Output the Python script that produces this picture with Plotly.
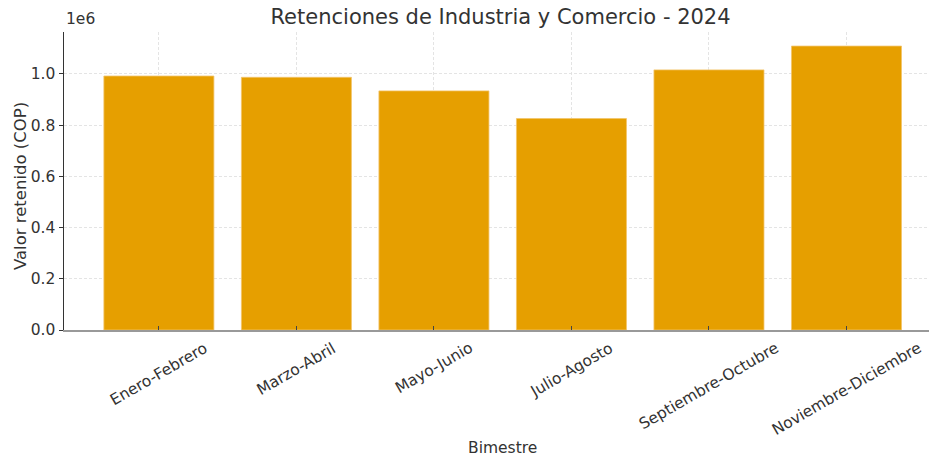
import plotly.graph_objects as go

categorias = ["Enero-Febrero", "Marzo-Abril", "Mayo-Junio", "Julio-Agosto",
              "Septiembre-Octubre", "Noviembre-Diciembre"]
valores = [992000, 987000, 934000, 826000, 1016000, 1109000]
y_ticks = [0, 200000, 400000, 600000, 800000, 1000000]
y_tick_labels = ["0.0", "0.2", "0.4", "0.6", "0.8", "1.0"]

FONT = "DejaVu Sans"
TXT = "#333333"
FS = 15.5

fig = go.Figure()
fig.add_trace(go.Bar(
    x=list(range(len(categorias))), y=valores,
    width=0.8,
    marker=dict(color="#E69F00", line=dict(color="#F2C46A", width=0.8)),
    hoverinfo="skip",
))

annotations = []
for i, c in enumerate(categorias):
    annotations.append(dict(
        x=i, y=0, xref="x", yref="y", text=c, showarrow=False,
        textangle=-30, xanchor="center", yanchor="top", yshift=-6,
        font=dict(family=FONT, size=FS, color=TXT),
    ))
annotations.append(dict(
    x=0, y=1.0, xref="paper", yref="paper", text="1e6", showarrow=False,
    xanchor="left", yanchor="bottom", yshift=2, xshift=0,
    font=dict(family=FONT, size=FS, color=TXT),
))
annotations.append(dict(
    x=(-0.69 + 5.69) / 2, y=0, xref="x", yref="paper", text="Bimestre", showarrow=False,
    xanchor="center", yanchor="middle", yshift=-118,
    font=dict(family=FONT, size=FS, color=TXT),
))
annotations.append(dict(
    x=0, y=0.483, xref="paper", yref="paper", text="Valor retenido (COP)", showarrow=False,
    textangle=-90, xanchor="center", yanchor="middle", xshift=-44,
    font=dict(family=FONT, size=16.5, color=TXT),
))

fig.update_layout(
    width=929, height=459,
    margin=dict(l=64, r=0, t=32, b=129, autoexpand=False),
    paper_bgcolor="white", plot_bgcolor="white",
    showlegend=False,
    title=dict(text="Retenciones de Industria y Comercio - 2024",
               x=0.5388, xanchor="center", xref="container",
               y=1 - 17 / 459, yanchor="middle", yref="container",
               font=dict(family=FONT, size=21, color=TXT)),
    annotations=annotations,
    xaxis=dict(
        range=[-0.69, 5.60], tickvals=list(range(len(categorias))),
        showticklabels=False, ticks="inside", ticklen=4, tickcolor="#444444",
        showgrid=True, gridcolor="#dddddd", griddash="3px,2px", gridwidth=0.8,
        showline=True, linecolor="#999999", linewidth=1.5, zeroline=False,
        automargin=False, layer="above traces",
    ),
    yaxis=dict(
        range=[0, 1164000], tickvals=y_ticks, ticktext=y_tick_labels,
        ticks="outside", ticklen=4, tickcolor="#333333",
        tickfont=dict(family=FONT, size=FS, color=TXT),
        showgrid=True, gridcolor="#dddddd", griddash="3px,2px", gridwidth=0.8,
        showline=True, linecolor="#333333", linewidth=1.5, zeroline=False,
        automargin=False, layer="above traces",
    ),
    font=dict(family=FONT, color=TXT),
)

fig.write_html("out.html",
               config={"displayModeBar": False, "staticPlot": True},
               post_script="document.body.style.margin='0';document.body.style.overflow='hidden';")
